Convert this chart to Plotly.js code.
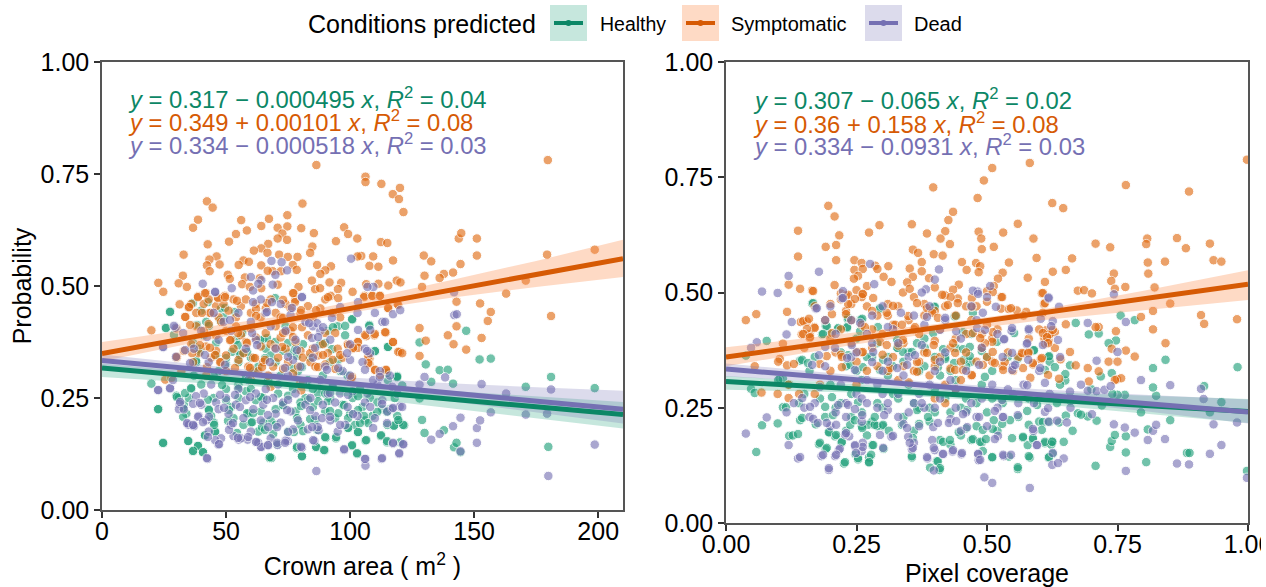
<!DOCTYPE html>
<html>
<head>
<meta charset="utf-8">
<script src="https://cdn.plot.ly/plotly-3.0.1.min.js"></script>
<style>html,body{margin:0;padding:0;background:#fff;overflow:hidden}#edge{position:fixed;left:1261px;top:0;width:5px;height:587px;background:#fff}</style>
</head>
<body>
<div id="chart" style="width:1266px;height:587px"></div>
<div id="edge"></div>
<script>
const areaHealthy = [[24.7,.149],[22.7,.225],[19.9,.282],[27.5,.443],[25.7,.407],[34.9,.154],[36.7,.131],[38.7,.143],[40.7,.129],[41.6,.166],[45.6,.175],[67.5,.116],[68.3,.116],[80.6,.120],[78.5,.138],[89.7,.133],[86.4,.140],[90.2,.161],[94.3,.160],[100.7,.143],[102.9,.125],[106.2,.155],[103.2,.174],[99.2,.184],[112.4,.165],[114.9,.151],[117.7,.189],[121.8,.189],[119.8,.196],[120.1,.151],[129,.201],[130,.172],[137.8,.178],[141.9,.140],[142.9,.150],[144.5,.129],[179.9,.141],[181,.297],[198.6,.272],[170.8,.275],[136.1,.312],[139.4,.313],[130.5,.325],[128,.374],[146.8,.400],[152.2,.336],[156.7,.338],[141.5,.282],[132.7,.286],[115.2,.364],[110,.354],[107.8,.413],[100.9,.425],[128,.249],[118.8,.296],[115.2,.290],[121,.278],
[30,.255],[31,.25],[33,.235],[34,.215],[36,.27],[37,.30],[38,.33],[39,.36],[40,.445],[41,.39],[42,.42],[43,.225],[44,.21],[45,.195],[46,.345],[47,.31],[48,.45],[49,.43],[50,.27],[52,.23],[53,.205],[54,.38],[55,.33],[56,.35],[57,.19],[58,.265],[59,.215],[60,.34],[61,.31],[62,.245],[63,.175],[64,.22],[65,.38],[66,.36],[67,.29],[68,.20],[69,.17],[70,.33],[71,.26],[72,.30],[73,.235],[74,.41],[75,.175],[76,.35],[77,.27],[78,.22],[79,.31],[80,.19],[81,.37],[82,.25],[83,.29],[84,.34],[85,.23],[86,.20],[87,.26],[88,.37],[89,.30],[90,.22],[91,.40],[92,.25],[93,.28],[94,.205],[95,.41],[96,.31],[97,.235],[98,.39],[99,.30],[100,.215],[101,.25],[102,.19],[104,.27],[105,.23],[106,.20],[108,.25],[109,.21],[111,.24],[113,.225],[115,.19],[116,.225],[118,.25],[119,.21],[45,.30],[50,.325],[55,.28],[60,.27],[65,.25],[70,.225],[75,.255],[80,.24],[85,.27],[90,.26],[55,.25],[60,.195],[65,.195],[70,.19],[45,.25],[40,.28],[35,.25],[50,.245],[58,.30],[63,.32],[68,.345],[73,.355],[78,.36]];
const areaHealthyCore = [[27.4,.442],[36.7,.462],[42.7,.464],[49.6,.451],[53.6,.442],[25.8,.406],[29,.391],[38.3,.413],[43.1,.411],[47.6,.424],[69.8,.473],[36.7,.373],[46,.373],[56.5,.395],[66.5,.384],[69.8,.375],[52.4,.353],[58.5,.353],[63.7,.379],[55.6,.346],[37.9,.333],[65.7,.339],[50,.339],[54.8,.368],[39.5,.353],[93.1,.408],[98,.411],[100.8,.426],[107.7,.411],[110,.355],[115.3,.364],[92.7,.359],[89.9,.373],[75,.373],[78.6,.344],[91.9,.330],[95.2,.335],[80.6,.319],[76.6,.317],[114.9,.306],[119,.299],[22.6,.225],[24.6,.150],[34.7,.154],[38.7,.143],[36.7,.132],[40.7,.129],[41.5,.167],[45.6,.174],[45.2,.190],[32.7,.208],[30.2,.252],[33.5,.261],[35.9,.272],[42.7,.246],[51.2,.223],[50.8,.199],[54.4,.172],[58.5,.216],[60.5,.196],[60.9,.216],[64.5,.185],[65.7,.179],[67.7,.118],[70.6,.147],[64.1,.252],[54.8,.272],[48.4,.279],[32.7,.228],[43.1,.223],[83.1,.246],[87.1,.243],[91.1,.243],[97.6,.234],[103.2,.254],[103.2,.223],[105.6,.210],[99.2,.205],[95.2,.216],[91.9,.221],[80.2,.232],[73,.234],[78.6,.205],[83.9,.203],[110.9,.219],[114.9,.219],[107.3,.194],[104,.194],[99.2,.183],[86.7,.179],[81,.176],[77.4,.174],[89.9,.163],[94.4,.163],[103.2,.174],[112.5,.167],[114.9,.154],[106.5,.156],[100.8,.145],[102.8,.127],[86.3,.141],[89.5,.134],[78.6,.141],[80.6,.120],[117.7,.188],[121.4,.190],[119.4,.201],[119,.297]];

const areaSymptomatic = [[86.4,.770],[179.7,.781],[106.2,.744],[106.2,.732],[112.6,.728],[120.1,.719],[117.2,.705],[119.7,.694],[121.5,.665],[42.3,.689],[44.6,.675],[80.8,.684],[38.7,.648],[36.7,.630],[56.1,.647],[67.3,.650],[74.7,.658],[64.2,.634],[58.4,.624],[54,.616],[70.8,.630],[74.7,.633],[80.3,.629],[85.4,.618],[97.6,.631],[99.2,.616],[102.9,.606],[72.7,.617],[70.8,.606],[74.6,.603],[67,.594],[64.2,.584],[61.2,.579],[51.2,.599],[42.6,.593],[32.9,.570],[94.3,.600],[112.4,.598],[115,.596],[84.8,.588],[83.9,.574],[143.8,.606],[144.8,.618],[151.1,.606],[151.1,.568],[129.7,.568],[132.7,.555],[144.5,.549],[141.5,.530],[137.8,.527],[136.1,.518],[130,.523],[179.4,.570],[198.6,.581],[170.8,.512],[162.9,.483],[129,.498],[117.3,.557],[109.3,.566],[104.5,.567],[103,.566],[71.4,.570],[74.9,.565],[78.8,.565],[66.7,.574],[57,.557],[59.2,.554],[55.1,.547],[46.2,.566],[43.3,.559],[47.4,.548],[42.3,.546],[43.4,.533],[86.7,.547],[76.9,.547],[78.5,.536],[92.3,.544],[90,.535],[88,.527],[107.8,.545],[111.4,.543],[64.2,.546],[68.8,.533],[66.8,.534],[72.1,.533],[32.6,.523],[22.7,.507],[24.7,.487],[30.9,.506],[34.2,.498],[50.7,.525],[51.5,.516],[57.6,.519],[63.5,.517],[84.6,.512],[91.7,.508],[96.4,.507],[85.9,.493],[87.9,.495],[95.1,.493],[106.5,.504],[111.4,.505],[115.4,.501],[118.8,.512],[120.3,.508],[79.2,.498],[77.3,.484],[56.5,.504],[59.6,.498],[64.2,.495],[70.8,.503],[105.8,.478],[109,.478],[112,.478],[92.2,.478],[49.5,.478],[46.6,.475],[38.7,.477],[42,.484],
[142.9,.465],[152.4,.461],[156.7,.442],[155.5,.422],[181,.433],[142.9,.410],[139.4,.390],[128,.406],[153,.384],[141.7,.370],[146.8,.358],[130.5,.378],[128,.344],[19.9,.401],[30.1,.405],[31.3,.459],[34.9,.452],[33.7,.431],[114.4,.396],[117.3,.375],[106.5,.388],[109.8,.390],[103,.375],[120.1,.353],[107.8,.338],[107.8,.325],[110,.312],[114.4,.312],[115.5,.450],[119,.460],[100.4,.293],[80.3,.267],[25.5,.291],
[36,.46],[38,.44],[41,.46],[43,.47],[44,.44],[46,.455],[47,.43],[49,.46],[51,.445],[53,.47],[54,.43],[56,.455],[58,.47],[60,.44],[62,.46],[64,.43],[66,.45],[68,.47],[70,.44],[72,.43],[74,.46],[76,.45],[78,.47],[80,.44],[83,.455],[85,.43],[88,.45],[90,.47],[93,.44],[96,.43],[38,.41],[41,.40],[43,.415],[46,.39],[48,.42],[50,.40],[52,.38],[54,.41],[56,.39],[58,.375],[60,.405],[62,.385],[64,.365],[66,.395],[68,.37],[70,.41],[72,.385],[74,.36],[76,.40],[78,.375],[80,.355],[83,.39],[85,.36],[87,.345],[89,.37],[91,.35],[93,.335],[95,.36],[97,.34],[99,.37],[101,.36],[36,.37],[39,.35],[42,.365],[44,.34],[46,.355],[48,.33],[50,.345],[53,.36],[55,.335],[57,.35],[59,.32],[61,.34],[63,.31],[65,.33],[67,.30],[69,.32],[71,.34],[73,.315],[75,.33],[77,.305],[79,.32],[81,.34],[84,.33],[86,.32],[90,.325],[94,.315],[30,.34],[33,.355],[32,.31],[28,.295],[42,.30],[50,.31],[60,.29],[68,.275],[80,.285]];
const areaSymptomaticCore = [[33.5,.431],[35.1,.453],[38.7,.475],[41.5,.484],[43.5,.440],[40.3,.440],[35.5,.413],[46.8,.473],[49.6,.475],[54.4,.467],[62.1,.449],[62.1,.433],[66.5,.462],[36.3,.350],[39.5,.368],[36.7,.330],[45.6,.346],[58.5,.373],[61.7,.339],[59.7,.317],[64.5,.319],[47.6,.330],[30.2,.342],[42.3,.319],[53.6,.317],[69.8,.362],[51.6,.379],[43.5,.362],[54.8,.395],[65.7,.335],[77,.484],[73,.469],[77.8,.464],[80.2,.446],[86.3,.446],[91.1,.475],[95.2,.473],[101,.487],[105.6,.475],[108.9,.478],[112,.478],[115.3,.451],[119.4,.458],[73,.429],[77,.408],[80.6,.408],[73.8,.397],[89.9,.395],[94,.395],[110,.393],[106,.391],[114.1,.397],[117.3,.375],[119.4,.353],[121,.350],[83.9,.350],[89.1,.346],[87.1,.319],[99.2,.368],[103.2,.375],[103.2,.362],[101.2,.362],[107.3,.342],[107.3,.328],[110.1,.313],[114.5,.313],[112.1,.301],[96,.346],[100.8,.297],[72.6,.364],[73,.395],[77,.386]];

const areaDead = [[86.4,.087],[106.2,.114],[106.2,.099],[112.7,.114],[179.9,.076],[198.6,.146],[151.1,.150],[144.5,.131],[141.5,.187],[144.5,.206],[151.1,.183],[152.4,.200],[156.7,.218],[153,.281],[162.9,.260],[170.8,.213],[179.4,.215],[181,.269],[132.7,.157],[136.1,.170],[130,.297],[128,.280],[138.3,.296],[142,.435],[143,.437],[119.8,.125],[121.5,.146],[117.3,.148],[97.6,.134],[80.6,.139],[42.5,.114],[46.9,.146],[64.2,.140],[67,.144],[70.8,.145],[74.9,.154],[55.1,.157],[58.7,.157],[62.3,.151],[85.6,.154],[87.3,.178],[120,.231],[117,.226],[34.5,.192],[37,.189],[22.7,.267],[27.5,.271],[31.3,.237],[24.7,.363],[29.6,.407],[40.6,.505],[45.6,.486],[100.4,.561],[64.2,.513],[109.4,.498],[107,.498],[141.9,.486],[68.3,.556],[72.4,.553],[74.6,.535],[69.9,.525],[52.3,.495],[60.9,.490],[68.8,.503],[80.6,.476],
[31,.225],[33,.225],[35,.19],[37,.187],[39,.21],[40,.235],[41,.26],[42,.20],[43,.175],[44,.28],[46,.24],[47,.225],[48,.16],[50,.25],[51,.215],[52,.19],[53,.165],[54,.235],[55,.27],[56,.16],[57,.205],[58,.245],[59,.29],[60,.175],[61,.225],[62,.26],[63,.15],[64,.20],[65,.235],[66,.27],[67,.185],[68,.16],[69,.25],[70,.215],[71,.28],[72,.195],[73,.24],[74,.155],[75,.30],[76,.22],[77,.18],[78,.26],[79,.20],[80,.32],[81,.285],[82,.235],[83,.18],[84,.25],[85,.34],[86,.21],[87,.185],[88,.29],[89,.235],[90,.32],[91,.26],[92,.20],[93,.275],[94,.24],[95,.175],[96,.26],[97,.31],[98,.19],[99,.23],[100,.30],[101,.265],[103,.21],[105,.33],[106,.24],[107,.26],[108,.35],[110,.205],[111,.28],[112,.31],[113,.245],[115,.22],[116,.30],[117,.275],[119,.26],[121,.23],[37,.36],[40,.40],[43,.33],[45,.44],[47,.38],[49,.42],[52,.40],[55,.44],[58,.36],[60,.42],[62,.38],[64,.47],[66,.44],[68,.41],[70,.36],[72,.46],[74,.40],[76,.435],[78,.38],[82,.42],[85,.41],[88,.40],[92,.38],[100,.37],[103,.44],[106,.36],[110,.44],[113,.42],[60,.52],[63,.505]];
const areaDeadCore = [[45.6,.487],[60.9,.464],[66.5,.442],[68.5,.464],[51.6,.424],[29,.411],[24.6,.364],[33.5,.357],[29.8,.342],[41.5,.346],[32.7,.395],[60.5,.395],[42.3,.386],[62.5,.368],[49.6,.324],[35.5,.328],[67.7,.330],[80.6,.475],[76.6,.451],[103.2,.464],[117.3,.437],[120.2,.446],[96,.453],[86.7,.417],[89.1,.408],[83.5,.417],[92.7,.429],[103.2,.402],[108.1,.402],[114.1,.420],[84.7,.384],[87.1,.386],[106.9,.355],[100,.335],[98.8,.350],[106,.313],[77,.335],[75,.342],[78.6,.357],[85.9,.362],[90.7,.313],[73.8,.317],[95.2,.317],[22.6,.268],[27.4,.272],[28.6,.290],[31.5,.241],[37.9,.254],[36.7,.237],[39.5,.239],[38.7,.208],[43.1,.208],[34.3,.194],[36.7,.190],[40.7,.196],[51.2,.179],[49.2,.228],[47.6,.257],[53.6,.257],[59.7,.252],[55.6,.230],[66.9,.212],[66.5,.246],[70.6,.185],[52.8,.194],[58.9,.163],[54.8,.161],[45.6,.156],[47.2,.147],[64.1,.141],[66.9,.145],[70.6,.150],[62.1,.152],[42.3,.116],[42.7,.163],[75,.246],[74.6,.223],[83.9,.223],[88.7,.205],[91.9,.208],[96,.190],[101.2,.214],[108.1,.230],[112.9,.237],[117.3,.228],[109.3,.183],[114.9,.194],[85.1,.156],[80.2,.141],[97.6,.136],[106,.114],[112.9,.116],[119.8,.127],[121.4,.147],[117.3,.150],[73.8,.150],[84.7,.185],[75,.174],[91.9,.261],[99.2,.257],[109.3,.290],[112,.297]];

const coverHealthy = [[.058,.154],[.069,.212],[.099,.216],[.121,.189],[.128,.190],[.138,.193],[.142,.223],[.109,.251],[.115,.251],[.172,.214],[.178,.171],[.191,.160],[.209,.188],[.198,.196],[.221,.174],[.226,.129],[.248,.149],[.253,.138],[.274,.142],[.274,.131],[.280,.169],[.302,.161],[.356,.142],[.391,.120],[.404,.134],[.409,.115],[.510,.142],[.542,.144],[.559,.117],[.582,.142],[.578,.169],[.569,.185],[.588,.181],[.611,.173],[.625,.177],[.623,.170],[.626,.150],[.618,.142],[.647,.176],[.664,.200],[.638,.218],[.651,.233],[.674,.238],[.693,.231],[.710,.222],[.708,.124],[.736,.165],[.739,.178],[.745,.191],[.766,.188],[.766,.153],[.805,.132],[.808,.203],[.851,.223],[.883,.152],[.888,.152],[.998,.113],[.980,.338],[.949,.262],[.927,.240],[.916,.297],[.795,.240],[.824,.276],[.818,.294],[.842,.354],[.818,.336],[.783,.440],[.756,.450],[.747,.396],[.733,.390],[.714,.411],[.695,.409],[.670,.434],[.650,.309],[.650,.323],[.659,.342],[.739,.325],[.718,.318],[.764,.278],[.750,.278],[.165,.476],[.295,.464],[.078,.395],[.038,.363],[.048,.291],[.055,.282],[.103,.313],[.109,.313],[.142,.352],[.184,.409],[.191,.427],[.214,.420],[.232,.423],[.233,.443],[.258,.441],[.438,.448],[.398,.469],[.589,.374],[.618,.360],
[.10,.31],[.12,.30],[.14,.26],[.15,.28],[.16,.33],[.17,.36],[.18,.27],[.19,.23],[.20,.30],[.21,.25],[.22,.37],[.23,.20],[.24,.28],[.25,.33],[.26,.24],[.27,.19],[.28,.36],[.29,.26],[.30,.21],[.31,.32],[.32,.28],[.33,.38],[.34,.23],[.35,.30],[.36,.20],[.37,.25],[.38,.34],[.39,.22],[.40,.29],[.41,.18],[.42,.36],[.43,.24],[.44,.31],[.45,.19],[.46,.27],[.47,.35],[.48,.21],[.49,.30],[.50,.24],[.51,.33],[.52,.20],[.53,.26],[.54,.36],[.55,.28],[.56,.23],[.20,.41],[.23,.34],[.26,.31],[.29,.39],[.32,.34],[.35,.37],[.38,.40],[.41,.32],[.44,.38],[.47,.41],[.50,.36],[.30,.25],[.33,.27],[.36,.26],[.39,.25],[.42,.27],[.45,.25],[.48,.26],[.51,.27],[.40,.24],[.37,.215],[.43,.17],[.47,.18],[.49,.175],[.46,.205],[.58,.27],[.60,.22],[.62,.35],[.64,.30],[.66,.265],[.68,.235],[.70,.29],[.72,.255],[.74,.28],[.25,.40],[.27,.36],[.31,.36],[.34,.35],[.37,.33],[.40,.36],[.43,.33],[.46,.34],[.28,.22],[.24,.23],[.22,.26],[.26,.21],[.29,.21]];
const coverHealthyCore = [[.167,.477],[.295,.466],[.234,.445],[.261,.443],[.193,.427],[.215,.423],[.232,.425],[.186,.410],[.257,.416],[.291,.425],[.328,.397],[.339,.371],[.356,.371],[.146,.354],[.157,.347],[.234,.364],[.262,.338],[.301,.354],[.328,.380],[.238,.343],[.295,.332],[.366,.390],[.381,.380],[.400,.469],[.441,.449],[.473,.456],[.454,.414],[.552,.412],[.519,.393],[.416,.377],[.454,.377],[.490,.373],[.467,.382],[.590,.375],[.420,.356],[.456,.354],[.467,.362],[.559,.356],[.619,.362],[.437,.347],[.406,.338],[.630,.338],[.496,.317],[.611,.332],[.397,.412],[.190,.252],[.205,.234],[.146,.228],[.197,.197],[.211,.191],[.222,.176],[.180,.174],[.193,.163],[.228,.132],[.253,.141],[.278,.148],[.274,.132],[.282,.169],[.272,.213],[.285,.213],[.285,.230],[.301,.213],[.312,.200],[.337,.213],[.261,.206],[.238,.213],[.247,.223],[.358,.184],[.356,.145],[.366,.245],[.203,.273],[.253,.262],[.387,.230],[.462,.245],[.492,.202],[.511,.204],[.544,.223],[.529,.215],[.513,.223],[.577,.243],[.580,.213],[.607,.219],[.619,.219],[.605,.202],[.446,.197],[.473,.182],[.487,.176],[.498,.182],[.510,.143],[.548,.184],[.569,.187],[.588,.184],[.611,.176],[.625,.176],[.580,.145],[.619,.143],[.559,.121],[.634,.260],[.596,.256],[.406,.134],[.410,.119],[.492,.156],[.416,.176],[.429,.180]];

const coverSymptomatic = [[.998,.788],[.582,.781],[.510,.770],[.494,.743],[.397,.728],[.766,.733],[.887,.719],[.482,.705],[.625,.694],[.646,.683],[.435,.675],[.426,.657],[.559,.649],[.356,.648],[.294,.646],[.274,.630],[.138,.634],[.196,.688],[.208,.665],[.217,.624],[.385,.628],[.420,.633],[.484,.632],[.531,.630],[.489,.617],[.411,.617],[.589,.617],[.429,.605],[.708,.606],[.736,.598],[.807,.617],[.805,.605],[.864,.618],[.927,.606],[.881,.596],[.934,.570],[.949,.567],[.191,.599],[.211,.603],[.138,.578],[.211,.570],[.358,.593],[.368,.586],[.398,.583],[.415,.580],[.490,.594],[.513,.599],[.246,.570],[.260,.564],[.286,.558],[.311,.557],[.375,.566],[.452,.566],[.479,.564],[.487,.557],[.542,.565],[.595,.575],[.663,.574],[.841,.567],[.808,.565],[.651,.549],[.626,.545],[.743,.541],[.809,.541],[.530,.543],[.521,.530],[.461,.549],[.484,.544],[.352,.552],[.375,.546],[.358,.534],[.389,.531],[.246,.549],[.262,.551],[.290,.551],[.302,.534],[.317,.523],[.253,.536],[.245,.530],[.578,.532],[.611,.523],[.738,.525],[.765,.512],[.821,.511],[.745,.508],[.120,.517],[.142,.508],[.165,.504],[.208,.516],[.250,.505],[.270,.514],[.262,.496],[.220,.498],[.230,.494],[.339,.500],[.347,.522],[.352,.508],[.400,.511],[.419,.494],[.446,.517],[.435,.506],[.500,.503],[.513,.514],[.527,.490],[.674,.504],[.686,.505],[.701,.498],[.605,.498],[.471,.488],[.444,.487],
[.038,.440],[.058,.453],[.117,.458],[.143,.436],[.155,.437],[.169,.425],[.145,.409],[.160,.401],[.109,.389],[.055,.340],[.068,.283],[.099,.280],[.120,.271],[.103,.356],[.117,.342],[.910,.451],[.916,.432],[.979,.442],[.851,.476],[.818,.460],[.818,.420],[.795,.447],[.842,.390],[.783,.361],[.766,.374],[.733,.350],[.750,.350],[.739,.378],[.747,.416],[.714,.425],[.708,.425],[.651,.431],[.659,.371],[.641,.355],[.670,.342],[.693,.336],[.714,.329],[.695,.307],[.638,.313],[.749,.312],[.757,.314],[.745,.310],[.588,.344],[.583,.315],[.603,.355],[.569,.367],[.580,.371],[.618,.396],[.622,.410],[.630,.414],[.613,.418],[.611,.389],[.527,.465],[.542,.464],[.557,.461],[.575,.458],[.609,.475],
[.17,.47],[.19,.44],[.20,.40],[.21,.37],[.22,.42],[.23,.46],[.24,.39],[.25,.35],[.26,.43],[.27,.47],[.28,.38],[.29,.34],[.30,.41],[.31,.45],[.32,.36],[.33,.31],[.34,.39],[.35,.44],[.36,.33],[.37,.41],[.38,.37],[.39,.46],[.40,.34],[.41,.42],[.42,.30],[.43,.38],[.44,.45],[.45,.35],[.46,.41],[.47,.32],[.48,.47],[.49,.38],[.50,.43],[.51,.35],[.52,.42],[.54,.37],[.55,.33],[.57,.45],[.60,.42],[.61,.40],[.62,.41],[.63,.38],[.15,.38],[.16,.41],[.18,.345],[.20,.33],[.22,.365],[.24,.44],[.25,.30],[.26,.37],[.27,.33],[.28,.42],[.29,.45],[.30,.365],[.31,.33],[.32,.43],[.33,.385],[.34,.34],[.35,.305],[.36,.42],[.37,.35],[.38,.45],[.39,.32],[.40,.395],[.41,.36],[.42,.47],[.43,.335],[.44,.40],[.45,.31],[.46,.37],[.47,.44],[.48,.35],[.49,.41],[.50,.36],[.51,.40],[.53,.34],[.56,.36],[.58,.40],[.12,.30],[.13,.345],[.10,.35],[.14,.28],[.17,.28],[.18,.30],[.20,.475],[.22,.485],[.24,.475],[.26,.49],[.28,.46],[.31,.475],[.33,.47],[.36,.49],[.38,.475],[.40,.46],[.43,.49],[.46,.47],[.50,.48],[.40,.27],[.42,.26],[.44,.29]];
const coverSymptomaticCore = [[.167,.503],[.234,.495],[.247,.486],[.262,.497],[.234,.475],[.282,.488],[.320,.471],[.203,.453],[.230,.453],[.349,.449],[.308,.456],[.148,.438],[.159,.443],[.170,.423],[.155,.421],[.148,.410],[.161,.403],[.203,.412],[.266,.425],[.324,.430],[.337,.430],[.366,.477],[.385,.466],[.362,.425],[.222,.360],[.193,.362],[.251,.371],[.262,.371],[.295,.393],[.308,.386],[.222,.338],[.314,.336],[.366,.328],[.366,.349],[.385,.369],[.339,.397],[.529,.490],[.425,.473],[.444,.477],[.607,.499],[.611,.477],[.546,.466],[.511,.501],[.414,.495],[.471,.469],[.607,.456],[.395,.456],[.406,.445],[.473,.412],[.511,.414],[.510,.393],[.435,.390],[.496,.390],[.487,.401],[.511,.371],[.398,.386],[.400,.354],[.439,.369],[.567,.369],[.579,.369],[.607,.412],[.615,.403],[.626,.419],[.617,.390],[.588,.347],[.515,.347],[.534,.349],[.605,.358],[.439,.332],[.454,.332],[.569,.336],[.492,.343],[.471,.321],[.617,.321],[.531,.332]];

const coverDead = [[.038,.194],[.078,.229],[.120,.169],[.138,.140],[.116,.240],[.183,.145],[.209,.145],[.216,.158],[.197,.115],[.247,.167],[.262,.174],[.260,.156],[.236,.188],[.228,.192],[.317,.187],[.349,.187],[.360,.174],[.356,.160],[.386,.140],[.398,.114],[.400,.158],[.415,.149],[.434,.155],[.451,.149],[.483,.149],[.484,.136],[.495,.099],[.510,.087],[.532,.145],[.582,.076],[.595,.169],[.589,.200],[.647,.140],[.625,.126],[.653,.218],[.618,.220],[.634,.222],[.659,.285],[.693,.287],[.710,.286],[.725,.289],[.737,.297],[.701,.236],[.743,.214],[.764,.207],[.783,.196],[.766,.113],[.808,.180],[.818,.200],[.824,.213],[.841,.182],[.864,.129],[.887,.127],[.927,.150],[.949,.169],[.934,.214],[.979,.218],[.998,.098],[.851,.299],[.795,.310],[.910,.291],[.915,.269],[.693,.434],[.766,.436],[.750,.371],[.710,.352],[.638,.469],[.618,.487],[.580,.418],[.576,.388],[.603,.443],[.626,.438],[.547,.417],[.532,.398],[.172,.465],[.126,.436],[.116,.409],[.059,.392],[.048,.380],[.069,.502],[.099,.499],[.120,.536],[.178,.545],[.276,.562],[.408,.550],[.400,.528],[.284,.518],[.224,.503],[.222,.487],[.383,.507],[.375,.500],[.482,.502],[.473,.504],[.618,.489],[.743,.496],[.506,.514],
[.13,.26],[.15,.25],[.16,.23],[.17,.26],[.18,.295],[.19,.34],[.20,.21],[.21,.24],[.22,.30],[.23,.26],[.24,.36],[.25,.28],[.26,.22],[.27,.31],[.28,.39],[.29,.25],[.30,.33],[.31,.245],[.32,.42],[.33,.28],[.34,.215],[.35,.36],[.36,.26],[.37,.21],[.38,.43],[.39,.30],[.40,.25],[.41,.35],[.42,.44],[.43,.225],[.44,.29],[.45,.20],[.46,.33],[.47,.26],[.48,.44],[.49,.38],[.50,.21],[.51,.30],[.52,.25],[.53,.36],[.54,.29],[.55,.34],[.56,.26],[.57,.30],[.59,.26],[.60,.33],[.62,.28],[.64,.36],[.66,.25],[.68,.30],[.20,.47],[.24,.44],[.27,.41],[.30,.47],[.33,.39],[.36,.45],[.39,.47],[.42,.37],[.45,.40],[.47,.47],[.50,.49],[.52,.41],[.21,.41],[.25,.37],[.28,.45],[.31,.35],[.34,.32],[.37,.28],[.40,.33],[.43,.31],[.46,.24],[.49,.27],[.53,.23],[.30,.28],[.35,.24],[.38,.25],[.41,.27],[.44,.25],[.48,.23],[.33,.23],[.29,.30],[.26,.27],[.23,.23]];
const coverDeadCore = [[.174,.466],[.224,.488],[.190,.440],[.335,.456],[.257,.434],[.310,.425],[.385,.447],[.241,.386],[.209,.380],[.190,.382],[.178,.364],[.232,.358],[.282,.371],[.165,.343],[.247,.332],[.280,.349],[.347,.343],[.362,.364],[.375,.386],[.328,.336],[.483,.497],[.517,.469],[.492,.456],[.420,.445],[.481,.423],[.441,.416],[.496,.419],[.533,.399],[.548,.423],[.580,.421],[.577,.390],[.548,.369],[.579,.354],[.623,.427],[.636,.397],[.607,.386],[.602,.336],[.485,.343],[.410,.419],[.548,.332],[.554,.343],[.146,.271],[.161,.252],[.167,.226],[.176,.217],[.193,.217],[.211,.213],[.230,.195],[.215,.256],[.234,.256],[.247,.247],[.270,.260],[.261,.234],[.310,.260],[.303,.234],[.295,.191],[.320,.189],[.262,.165],[.247,.169],[.218,.161],[.249,.152],[.211,.148],[.186,.148],[.301,.163],[.358,.163],[.352,.174],[.197,.119],[.385,.143],[.142,.143],[.347,.206],[.375,.260],[.397,.208],[.406,.217],[.427,.217],[.441,.221],[.454,.236],[.462,.208],[.485,.230],[.515,.243],[.559,.234],[.531,.230],[.588,.204],[.596,.169],[.395,.180],[.398,.163],[.435,.158],[.416,.150],[.452,.152],[.483,.150],[.487,.137],[.531,.148],[.546,.148],[.521,.189],[.515,.182],[.611,.241],[.617,.249],[.626,.152],[.636,.130],[.577,.299],[.611,.304],[.529,.267]];

const areaStops = [0, 70, 105, 140, 175, 210];
const areaLineX = [0, 210];
const areaHealthyLine = [.317, .213];
const areaHealthyUp = [.327, .292, .279, .266, .253, .241];
const areaHealthyLow = [.297, .273, .250, .228, .205, .182];
const areaSymptomaticLine = [.349, .561];
const areaSymptomaticUp = [.375, .431, .470, .512, .556, .603];
const areaSymptomaticLow = [.332, .410, .445, .473, .498, .520];
const areaDeadLine = [.334, .225];
const areaDeadUp = [.347, .307, .294, .283, .274, .266];
const areaDeadLow = [.318, .290, .268, .243, .218, .193];

const coverStops = [0, .25, .4, .6, .8, 1];
const coverLineX = [0, 1];
const coverHealthyLine = [.307, .242];
const coverHealthyUp = [.319, .300, .290, .284, .277, .269];
const coverHealthyLow = [.289, .283, .272, .258, .238, .217];
const coverSymptomaticLine = [.36, .518];
const coverSymptomaticUp = [.381, .414, .431, .462, .504, .548];
const coverSymptomaticLow = [.340, .388, .412, .439, .461, .484];
const coverDeadLine = [.334, .241];
const coverDeadUp = [.346, .320, .305, .290, .278, .268];
const coverDeadLow = [.318, .302, .289, .267, .243, .216];

const colorHealthy = '#0c8766', colorSymptomatic = '#d65a04', colorDead = '#7570b3';
const fillHealthy = 'rgba(27,158,119,0.25)', fillSymptomatic = 'rgba(253,141,75,0.32)', fillDead = 'rgba(117,112,179,0.25)';
const pointHealthy = '#1b9e77', pointSymptomatic = '#e0690f', pointDead = '#7570b3';
const seriesNames = ['Healthy', 'Symptomatic', 'Dead'];
const fontFam = 'Liberation Sans, Arial, sans-serif';

function points(pairs, color, name, xa, ya) {
  return {type:'scatter', mode:'markers', name, xaxis:xa, yaxis:ya, hoverinfo:'skip',
    x:pairs.map(p=>p[0]), y:pairs.map(p=>p[1]),
    marker:{size:9.5, color, opacity:.62, line:{color:'#ffffff', width:1}}};
}
function ribbon(stops, up, low, fill, name, xa, ya) {
  return {type:'scatter', mode:'lines', name, xaxis:xa, yaxis:ya, hoverinfo:'skip',
    x:stops.concat(stops.slice().reverse()), y:up.concat(low.slice().reverse()),
    fill:'toself', fillcolor:fill, line:{width:0}};
}
function fit(x, y, color, name, xa, ya) {
  return {type:'scatter', mode:'lines', name, xaxis:xa, yaxis:ya, hoverinfo:'skip', x, y, line:{color, width:5}};
}

const traces = [
  points(areaHealthy.concat(areaHealthyCore), pointHealthy, seriesNames[0], 'x', 'y'),
  points(areaSymptomatic.concat(areaSymptomaticCore), pointSymptomatic, seriesNames[1], 'x', 'y'),
  points(areaDead.concat(areaDeadCore), pointDead, seriesNames[2], 'x', 'y'),
  ribbon(areaStops, areaHealthyUp, areaHealthyLow, fillHealthy, seriesNames[0], 'x', 'y'),
  ribbon(areaStops, areaSymptomaticUp, areaSymptomaticLow, fillSymptomatic, seriesNames[1], 'x', 'y'),
  ribbon(areaStops, areaDeadUp, areaDeadLow, fillDead, seriesNames[2], 'x', 'y'),
  fit(areaLineX, areaHealthyLine, colorHealthy, seriesNames[0], 'x', 'y'),
  fit(areaLineX, areaSymptomaticLine, colorSymptomatic, seriesNames[1], 'x', 'y'),
  fit(areaLineX, areaDeadLine, colorDead, seriesNames[2], 'x', 'y'),
  points(coverHealthy.concat(coverHealthyCore), pointHealthy, seriesNames[0], 'x2', 'y2'),
  points(coverSymptomatic.concat(coverSymptomaticCore), pointSymptomatic, seriesNames[1], 'x2', 'y2'),
  points(coverDead.concat(coverDeadCore), pointDead, seriesNames[2], 'x2', 'y2'),
  ribbon(coverStops, coverHealthyUp, coverHealthyLow, fillHealthy, seriesNames[0], 'x2', 'y2'),
  ribbon(coverStops, coverSymptomaticUp, coverSymptomaticLow, fillSymptomatic, seriesNames[1], 'x2', 'y2'),
  ribbon(coverStops, coverDeadUp, coverDeadLow, fillDead, seriesNames[2], 'x2', 'y2'),
  fit(coverLineX, coverHealthyLine, colorHealthy, seriesNames[0], 'x2', 'y2'),
  fit(coverLineX, coverSymptomaticLine, colorSymptomatic, seriesNames[1], 'x2', 'y2'),
  fit(coverLineX, coverDeadLine, colorDead, seriesNames[2], 'x2', 'y2')
];

const W = 1266, H = 587;
const px = v => v / W, py = v => 1 - v / H;
const tickFont = {family:fontFam, size:25, color:'#000'};
function axis(extra) {
  return Object.assign({showgrid:false, zeroline:false, showline:true, mirror:true, linecolor:'#555', linewidth:1.5,
    ticks:'outside', ticklen:6, tickwidth:1.5, tickcolor:'#333', tickfont:tickFont, automargin:false, ticklabeloverflow:'allow'}, extra);
}
const probLabels = ['0.00','0.25','0.50','0.75','1.00'];
const probVals = [0,.25,.5,.75,1];

function eq(text, x, y, color) {
  return {xref:'paper', yref:'paper', x:px(x), y:py(y), xanchor:'left', yanchor:'middle', showarrow:false,
    text, font:{family:fontFam, size:23.8, color}};
}
const M = '\u2212';
const annotations = [
  eq('<i>y</i> = 0.317 '+M+' 0.000495 <i>x</i>, <i>R</i><sup>2</sup> = 0.04', 126, 98.5, colorHealthy),
  eq('<i>y</i> = 0.349 + 0.00101 <i>x</i>, <i>R</i><sup>2</sup> = 0.08', 126, 120.5, colorSymptomatic),
  eq('<i>y</i> = 0.334 '+M+' 0.000518 <i>x</i>, <i>R</i><sup>2</sup> = 0.03', 126, 143.5, colorDead),
  eq('<i>y</i> = 0.307 '+M+' 0.065 <i>x</i>, <i>R</i><sup>2</sup> = 0.02', 751, 99.5, colorHealthy),
  eq('<i>y</i> = 0.36 + 0.158 <i>x</i>, <i>R</i><sup>2</sup> = 0.08', 751, 122.5, colorSymptomatic),
  eq('<i>y</i> = 0.334 '+M+' 0.0931 <i>x</i>, <i>R</i><sup>2</sup> = 0.03', 751, 144.5, colorDead),
  {xref:'paper', yref:'paper', x:px(306), y:py(24), xanchor:'left', yanchor:'middle', showarrow:false,
    text:'Conditions predicted', font:{family:fontFam, size:25, color:'#000'}},
  {xref:'paper', yref:'paper', x:px(598), y:py(24), xanchor:'left', yanchor:'middle', showarrow:false,
    text:seriesNames[0], font:{family:fontFam, size:19.5, color:'#000'}},
  {xref:'paper', yref:'paper', x:px(729), y:py(24), xanchor:'left', yanchor:'middle', showarrow:false,
    text:seriesNames[1], font:{family:fontFam, size:20, color:'#000'}},
  {xref:'paper', yref:'paper', x:px(912), y:py(24), xanchor:'left', yanchor:'middle', showarrow:false,
    text:seriesNames[2], font:{family:fontFam, size:20, color:'#000'}}
];

function legendKey(left, fill, color) {
  const r = 3;
  return [
    {type:'rect', xref:'paper', yref:'paper', x0:px(left), x1:px(left+37), y0:py(41), y1:py(5), fillcolor:fill, line:{width:0}},
    {type:'line', xref:'paper', yref:'paper', x0:px(left+4), x1:px(left+33), y0:py(23), y1:py(23), line:{color, width:4}},
    {type:'circle', xref:'paper', yref:'paper', x0:px(left+18.5-r), x1:px(left+18.5+r), y0:py(23+r), y1:py(23-r), fillcolor:color, line:{width:0}}
  ];
}

const layout = {
  width:W, height:H, margin:{l:0,r:0,t:0,b:0}, showlegend:false,
  paper_bgcolor:'#fff', plot_bgcolor:'#fff', font:{family:fontFam},
  xaxis: axis({domain:[px(102),px(623)], range:[0,210], tickvals:[0,50,100,150,200], ticktext:['0','50','100','150','200'], anchor:'y', ticklabelstandoff:-8,
    title:{text:'Crown area ( m<sup>2</sup> )', font:{family:fontFam, size:25, color:'#000'}, standoff:14}}),
  yaxis: axis({domain:[py(510),py(62)], range:[0,1], tickvals:probVals, ticktext:probLabels, anchor:'x',
    title:{text:'Probability', font:{family:fontFam, size:25, color:'#000'}, standoff:2}}),
  xaxis2: axis({domain:[px(726),px(1248)], range:[0,1], tickvals:probVals, ticktext:probLabels, anchor:'y2', ticklabelstandoff:-8,
    title:{text:'Pixel coverage', font:{family:fontFam, size:25, color:'#000'}, standoff:9}}),
  yaxis2: axis({domain:[py(523),py(62)], range:[0,1], tickvals:probVals, ticktext:probLabels, anchor:'x2'}),
  annotations,
  shapes: [].concat(legendKey(550,'rgba(27,158,119,0.25)',colorHealthy), legendKey(682,'rgba(253,141,75,0.32)',colorSymptomatic), legendKey(865,'rgba(117,112,179,0.25)',colorDead))
};
Plotly.newPlot('chart', traces, layout, {displayModeBar:false, responsive:false});
</script>
</body>
</html>
